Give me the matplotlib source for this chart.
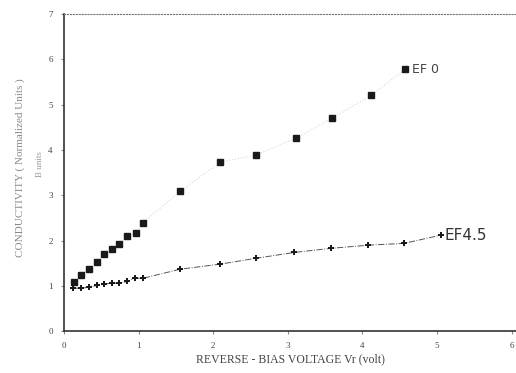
import matplotlib
matplotlib.use('Agg')
import matplotlib.pyplot as plt

# EF 0 series (squares)
vr_ef0 = [0.13, 0.23, 0.33, 0.44, 0.54, 0.64, 0.74, 0.85, 0.96, 1.06, 1.56, 2.09, 2.57, 3.11, 3.59, 4.12, 4.57]
g_ef0 = [1.08, 1.24, 1.37, 1.52, 1.70, 1.81, 1.92, 2.10, 2.16, 2.40, 3.09, 3.73, 3.89, 4.26, 4.70, 5.21, 5.78]

# EF 4.5 series (crosses, dash-dot line)
vr_ef45 = [0.12, 0.23, 0.33, 0.44, 0.54, 0.64, 0.74, 0.85, 0.95, 1.06, 1.56, 2.09, 2.57, 3.09, 3.58, 4.08, 4.56, 5.05]
g_ef45 = [0.95, 0.95, 0.97, 1.01, 1.04, 1.06, 1.06, 1.10, 1.17, 1.17, 1.37, 1.48, 1.61, 1.74, 1.83, 1.90, 1.94, 2.12]

xticks = [0, 1, 2, 3, 4, 5, 6]
yticks = [0, 1, 2, 3, 4, 5, 6, 7]

plt.rcParams['font.family'] = ['Liberation Serif', 'DejaVu Serif']

fig = plt.figure(figsize=(5.16, 3.73), dpi=100)
ax = fig.add_axes([0.124, 0.112, 0.876, 0.85])

ax.plot(vr_ef0, g_ef0, linestyle=':', color='#d8d8d8', linewidth=0.8, zorder=1)
ax.plot(vr_ef0, g_ef0, linestyle='none', marker='s', markersize=4.2, color='#1a1a1a', zorder=3)
ax.plot(vr_ef45, g_ef45, linestyle='-.', color='#555555', linewidth=0.7, marker='P',
        markersize=3.8, markeredgewidth=0, markerfacecolor='#1a1a1a', zorder=3)

ax.text(4.66, 5.78, 'EF 0', fontsize=9, color='#444444', va='center', family='DejaVu Sans')
ax.text(5.1, 2.12, 'EF4.5', fontsize=11, color='#333333', va='center', family='DejaVu Sans')

ax.set_xlim(0, 6.06)
ax.set_ylim(0, 7)
ax.set_xticks(xticks)
ax.set_yticks(yticks)
ax.tick_params(length=2, width=0.8, colors='#888888', labelsize=6.5, labelcolor='#444444', pad=6)

ax.spines['left'].set_color('#333333')
ax.spines['bottom'].set_color('#333333')
ax.spines['left'].set_linewidth(1.2)
ax.spines['bottom'].set_linewidth(1.2)
ax.spines['top'].set_linestyle(':')
ax.spines['top'].set_color('#777777')
ax.spines['right'].set_visible(False)

ax.set_xlabel('REVERSE - BIAS VOLTAGE Vr (volt)', fontsize=8.5, color='#444444', labelpad=2)
fig.text(0.04, 0.55, 'CONDUCTIVITY ( Normalized Units )', rotation=90, fontsize=8,
         color='#888888', va='center', ha='center')
fig.text(0.077, 0.56, 'B units', rotation=90, fontsize=6.5, color='#999999', va='center', ha='center')

fig.savefig('out.png', dpi=100)
